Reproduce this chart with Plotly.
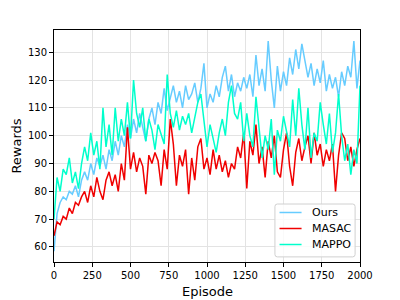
import plotly.graph_objects as go

episodes = list(range(0, 2001, 20))

ours = [58.5, 72, 76, 78, 77, 80, 79, 82, 78, 84,
        87, 84, 90, 86, 92, 89, 93, 88, 95, 91,
        98, 93, 100, 96, 104, 99, 106, 101, 108, 103,
        98, 106, 110, 104, 112, 108, 117, 109, 114, 118,
        112, 116, 110, 118, 113, 115, 119, 112, 117, 126,
        110, 115, 112, 118, 114, 121, 125, 116, 122, 114,
        119, 116, 121, 117, 122, 114, 129, 118, 124, 116,
        134, 120, 110, 125, 116, 123, 118, 128, 122, 131,
        124, 133, 127, 121, 126, 118, 124, 119, 127, 116,
        122, 117, 121, 114, 123, 118, 125, 121, 134, 117,
        127]

masac = [64, 69, 68, 71, 70, 74, 72, 76, 75, 78,
         80, 76, 82, 78, 85, 80, 77, 84, 87, 82,
         86, 80, 90, 84, 103, 88, 94, 87, 92, 89,
         79, 93, 90, 94, 91, 82, 95, 88, 106, 97,
         82, 93, 89, 95, 79, 92, 84, 96, 99, 88,
         92, 86, 95, 88, 93, 87, 91, 85, 90, 88,
         96, 92, 101, 81, 98, 93, 104, 90, 96, 85,
         98, 92, 100, 87, 85, 95, 101, 89, 82, 94,
         99, 91, 96, 100, 90, 101, 93, 97, 89, 95,
         91, 97, 80, 93, 101, 99, 91, 96, 89, 95,
         99]

mappo = [70, 85, 80, 88, 86, 92, 83, 87, 81, 90,
         96, 91, 101, 93, 98, 88, 110, 96, 104, 93,
         110, 98, 106, 100, 112, 99, 120, 108, 103, 110,
         98, 106, 102, 95, 104, 100, 97, 122, 108, 103,
         109, 102, 107, 104, 108, 101, 107, 112, 115, 106,
         96, 104, 99, 94, 101, 106, 100, 112, 118, 108,
         106, 112, 98, 108, 100, 96, 114, 104, 92, 100,
         95, 106, 86, 102, 98, 107, 101, 96, 113, 100,
         117, 104, 95, 110, 92, 101, 98, 112, 104, 97,
         108, 94, 101, 115, 100, 91, 97, 86, 95, 90,
         118]

series_names = ["Ours", "MASAC", "MAPPO"]
colors = ["#66CCFF", "#F00000", "#00FFCC"]
x_ticks = [0, 250, 500, 750, 1000, 1250, 1500, 1750, 2000]
y_ticks = [60, 70, 80, 90, 100, 110, 120, 130]

fig = go.Figure()
for name, vals, c in zip(series_names, [ours, masac, mappo], colors):
    fig.add_trace(go.Scatter(x=episodes, y=vals, mode="lines", name=name,
                             line=dict(color=c, width=1.5), showlegend=False))

axis_common = dict(showline=True, linecolor="black", linewidth=1, mirror=True,
                   ticks="outside", ticklen=4, tickcolor="black", tickwidth=1,
                   showgrid=True, gridcolor="#E3E3E3", gridwidth=1, zeroline=False,
                   automargin=False,
                   tickfont=dict(family="DejaVu Sans", size=10, color="black"))

# legend drawn in paper coordinates (matplotlib-style box)
lx0, lx1, ly0, ly1 = 0.722, 0.984, 0.022, 0.25
rx, ry = 0.008, 0.011
box_path = (f"M {lx0+rx},{ly0} L {lx1-rx},{ly0} Q {lx1},{ly0} {lx1},{ly0+ry} "
            f"L {lx1},{ly1-ry} Q {lx1},{ly1} {lx1-rx},{ly1} "
            f"L {lx0+rx},{ly1} Q {lx0},{ly1} {lx0},{ly1-ry} "
            f"L {lx0},{ly0+ry} Q {lx0},{ly0} {lx0+rx},{ly0} Z")
shapes = [dict(type="path", xref="paper", yref="paper", path=box_path,
               fillcolor="rgba(255,255,255,0.8)", line=dict(color="#D0D0D0", width=1),
               layer="above")]
annotations = []
entry_y = [0.2134, 0.1444, 0.0754]
for name, c, yy in zip(series_names, colors, entry_y):
    shapes.append(dict(type="line", xref="paper", yref="paper", x0=0.737, x1=0.809,
                       y0=yy, y1=yy, line=dict(color=c, width=1.5), layer="above"))
    annotations.append(dict(text=name, xref="paper", yref="paper", x=0.836, y=yy,
                            xanchor="left", yanchor="middle", showarrow=False,
                            font=dict(family="DejaVu Sans", size=11, color="black")))

annotations += [
    dict(text="Episode", xref="paper", yref="paper", x=0.5, y=-0.125,
         xanchor="center", yanchor="middle", showarrow=False,
         font=dict(family="DejaVu Sans", size=13, color="black")),
    dict(text="Rewards", xref="paper", yref="paper", x=-0.1255, y=0.5,
         xanchor="center", yanchor="middle", showarrow=False, textangle=-90,
         font=dict(family="DejaVu Sans", size=13, color="black")),
]

fig.update_layout(
    width=400, height=300,
    margin=dict(l=46, r=48, t=22, b=46),
    paper_bgcolor="white", plot_bgcolor="white",
    font=dict(family="DejaVu Sans", color="black"),
    xaxis=dict(range=[0, 2000], tickvals=x_ticks, **axis_common),
    yaxis=dict(range=[54.6, 138], tickvals=y_ticks, **axis_common),
    showlegend=False,
    shapes=shapes,
    annotations=annotations,
)

fig.write_html("out.html")
